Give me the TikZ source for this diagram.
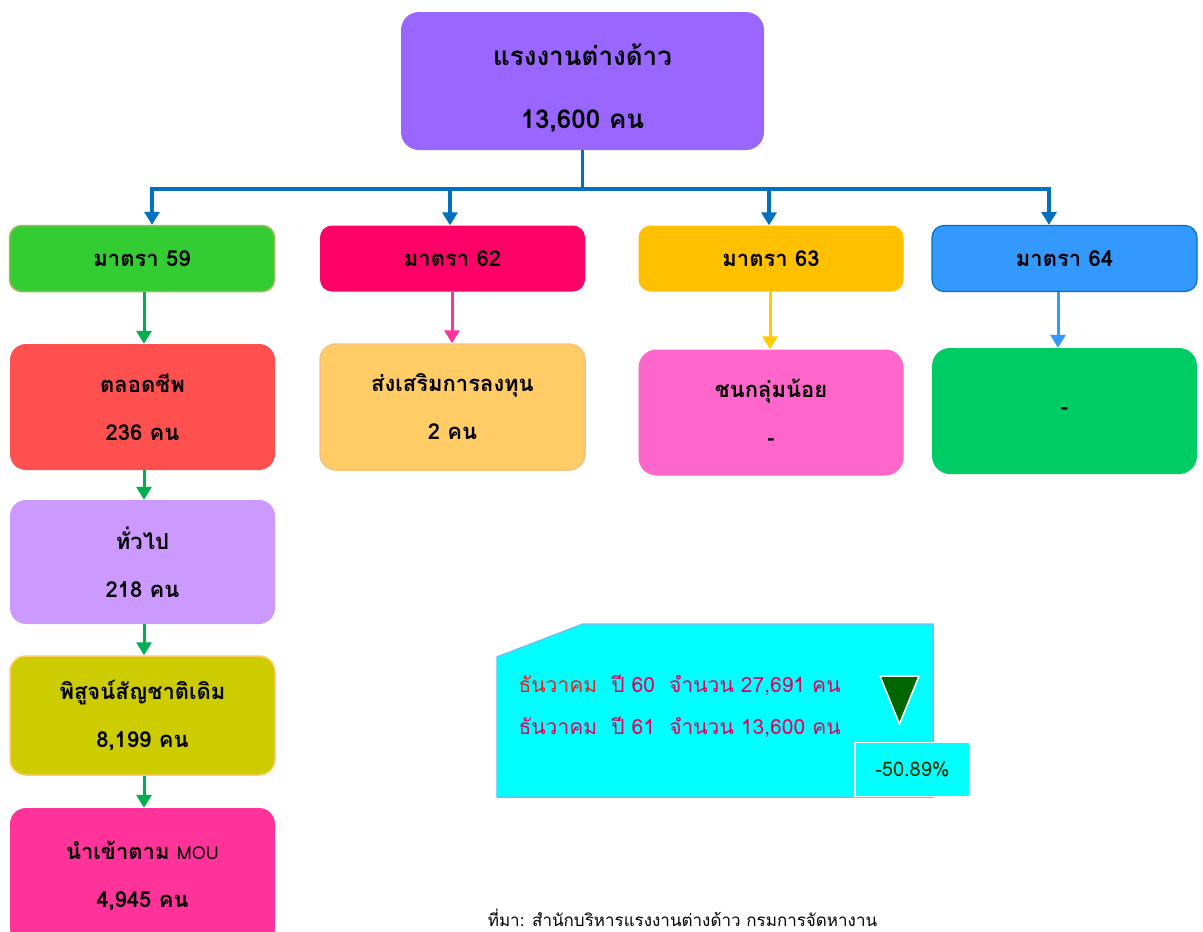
\documentclass[tikz,border=0pt]{standalone}
\usepackage{fontspec}
\setmainfont{Loma}[Script=Thai]
\usetikzlibrary{arrows.meta}
\definecolor{topc}{HTML}{9966FF}
\definecolor{cA}{HTML}{33CC33}
\definecolor{cAb}{HTML}{9BBB59}
\definecolor{cB}{HTML}{FF0066}
\definecolor{cC}{HTML}{FFC000}
\definecolor{cD}{HTML}{3399FF}
\definecolor{cDb}{HTML}{0070C0}
\definecolor{life}{HTML}{FF5050}
\definecolor{invest}{HTML}{FFCC66}
\definecolor{investb}{HTML}{F6C27E}
\definecolor{minor}{HTML}{FF66CC}
\definecolor{dchild}{HTML}{00CC66}
\definecolor{general}{HTML}{CC99FF}
\definecolor{prove}{HTML}{CCCC00}
\definecolor{mou}{HTML}{FF3399}
\definecolor{conn}{HTML}{0070C0}
\definecolor{garrow}{HTML}{00B050}
\definecolor{parrow}{HTML}{FF3399}
\definecolor{yarrow}{HTML}{FFCC00}
\definecolor{barrow}{HTML}{3399FF}
\definecolor{infoc}{HTML}{E4005C}
\definecolor{infored}{HTML}{E8201E}
\definecolor{infob}{HTML}{5BC8F5}
\definecolor{aqua}{HTML}{00FFFF}
\definecolor{darkg}{HTML}{006600}
\definecolor{pctc}{HTML}{003300}
\tikzset{
  box/.style={rounded corners=12pt, minimum width=265pt, align=center, inner sep=0pt, font=\bfseries\fontsize{22}{48}\selectfont},
  hdr/.style={box, minimum height=66pt},
  tall/.style={box, minimum height=126pt},
  conn/.style={draw=conn, line width=3.5pt, -{Triangle[width=15pt,length=13pt]}},
  sub/.style={line width=3pt, -{Triangle[width=15pt,length=13pt]}},
  infotext/.style={anchor=west, text=infoc, font=\fontsize{21}{25}\selectfont},
}
\begin{document}
\begin{tikzpicture}[x=1pt,y=-1pt]
\useasboundingbox (0,0) rectangle (1203,932);
\clip (0,0) rectangle (1203,932);
% top
\node[box, fill=topc, minimum width=363pt, minimum height=138pt, rounded corners=18pt] (top) at (582.5,81) {};
\node[align=center, font=\bfseries\fontsize{26}{63}\selectfont] (toptext) at ([yshift=-7.5pt]top.center) {แรงงานต่างด้าว\\13,600 คน};
% headers
\node[hdr, fill=cA, draw=cAb, line width=1.5pt] (m59) at (142,258.5) {มาตรา 59};
\node[hdr, fill=cB] (m62) at (452.5,258.5) {มาตรา 62};
\node[hdr, fill=cC] (m63) at (771,258.5) {มาตรา 63};
\node[hdr, fill=cD, draw=cDb, line width=1.2pt] (m64) at (1064.5,258.5) {มาตรา 64};
% second row
\node[tall, fill=life, rounded corners=16pt] (life) at (142.5,407) {ตลอดชีพ\\236 คน};
\node[tall, fill=invest, draw=investb, line width=1.5pt, rounded corners=16pt] (inv) at (452.5,407) {ส่งเสริมการลงทุน\\2 คน};
\node[tall, fill=minor, rounded corners=18pt] (minor) at (771,412.5) {ชนกลุ่มน้อย\\-};
\node[tall, fill=dchild, rounded corners=18pt] (dchild) at (1064.5,411) {-};
% left column
\node[tall, fill=general, minimum height=124pt, rounded corners=16pt] (gen) at (142.5,562) {ทั่วไป\\218 คน};
\node[tall, fill=prove, draw=invest, line width=1.5pt, minimum height=119pt, rounded corners=16pt] (prove) at (142.5,715.5) {พิสูจน์สัญชาติเดิม\\8,199 คน};
\node[tall, fill=mou, minimum height=136pt, rounded corners=16pt] (mou) at (142.5,876) {นำเข้าตาม {\mdseries\fontsize{18}{48}\selectfont MOU}\\4,945 คน};
% top connectors
\draw[draw=conn, line width=3.5pt] (top.south) -- ++(0,39) coordinate (j);
\draw[conn] (j) -| ([xshift=10pt]m59.north);
\draw[conn] (j) -| ([xshift=-2.5pt]m62.north);
\draw[conn] (j) -| ([xshift=-2pt]m63.north);
\draw[conn] (j) -| ([xshift=-15.5pt]m64.north);
% sub arrows
\draw[sub, draw=garrow, fill=garrow] ([xshift=2pt]m59.south) -- ([xshift=1.5pt]life.north);
\draw[sub, draw=parrow, fill=parrow] ([xshift=-0.5pt]m62.south) -- ([xshift=-0.5pt]inv.north);
\draw[sub, draw=yarrow, fill=yarrow] ([xshift=-1pt]m63.south) -- ([xshift=-1pt]minor.north);
\draw[sub, draw=barrow, fill=barrow] ([xshift=-6.5pt]m64.south) -- ([xshift=-6.5pt]dchild.north);
\draw[sub, draw=garrow, fill=garrow] ([xshift=1.5pt]life.south) -- ([xshift=1.5pt]gen.north);
\draw[sub, draw=garrow, fill=garrow] ([xshift=1.5pt]gen.south) -- ([xshift=1.5pt]prove.north);
\draw[sub, draw=garrow, fill=garrow] ([xshift=1.5pt]prove.south) -- ([xshift=1.5pt]mou.north);
% info panel
\draw[fill=aqua, draw=infob, line width=1.5pt] (497,657) -- (583,624) -- (933,624) -- (933,797) -- (497,797) -- cycle;
\node[infotext] (l1) at (515,685) {\textcolor{infored}{ธันวาคม}\ \ ปี 60\ \ จำนวน 27,691 คน};
\node[infotext] (l2) at (515,727) {ธันวาคม\ \ ปี 61\ \ จำนวน 13,600 คน};
\draw[fill=darkg, draw=white, line width=1.5pt] (880,676) -- (919,676) -- (899.5,724) -- cycle;
\node[fill=aqua, draw=white, line width=1.5pt, minimum width=115pt, minimum height=54pt, text=pctc, font=\fontsize{20}{24}\selectfont] (pct) at (912.5,769.5) {-50.89\%};
% source
\node[font=\fontsize{17}{20}\selectfont] (src) at (682.5,918) {ที่มา: สำนักบริหารแรงงานต่างด้าว กรมการจัดหางาน};
\end{tikzpicture}
\end{document}
